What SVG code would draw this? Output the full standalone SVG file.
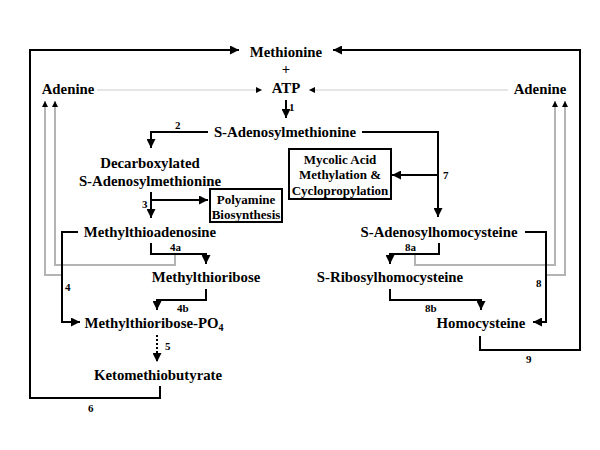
<svg xmlns="http://www.w3.org/2000/svg" width="600" height="450" viewBox="0 0 600 450" font-family="'Liberation Serif', 'Times New Roman', serif" font-weight="bold">
<defs>
<style>
text{font-family:'Liberation Serif','Times New Roman',serif;font-weight:700;fill:#000}
.n{font-size:14.8px;text-anchor:middle}
.b{font-size:13px;text-anchor:middle}
.l{font-size:11px}
.k{fill:none;stroke:#000;stroke-width:2}
.g{fill:none;stroke:#b4b4b4;stroke-width:2}
.lg{fill:none;stroke:#dcdcdc;stroke-width:1.5}
.box{fill:#fff;stroke:#000;stroke-width:2}
</style>
<marker id="a" viewBox="0 0 10 10" refX="10" refY="5" markerWidth="9" markerHeight="9" markerUnits="userSpaceOnUse" orient="auto"><path d="M0,0L10,5L0,10z" fill="#000"/></marker>
<marker id="s" viewBox="0 0 10 10" refX="10" refY="5" markerWidth="6" markerHeight="6" markerUnits="userSpaceOnUse" orient="auto"><path d="M0,0L10,5L0,10z" fill="#000"/></marker>
</defs>
<g id="connectors">
<path class="lg" d="M97,90H262" marker-end="url(#s)"/>
<path class="lg" d="M508,90H309" marker-end="url(#s)"/>
<path class="g" d="M175,254V265H55V101" marker-end="url(#s)"/>
<path class="g" d="M62,275H45V101" marker-end="url(#s)"/>
<path class="g" d="M415,254V265H555V101" marker-end="url(#s)"/>
<path class="g" d="M546,275H565V101" marker-end="url(#s)"/>
<path class="k" d="M160,386V398H30V50H239" marker-end="url(#a)"/>
<path class="k" d="M480,336V350H580V50H333" marker-end="url(#a)"/>
<path class="k" d="M286,100V118" marker-end="url(#a)"/>
<path class="k" d="M208,132H151V148" marker-end="url(#a)"/>
<path class="k" d="M362,132H438V217" marker-end="url(#a)"/>
<path class="k" d="M438,175H392" marker-end="url(#a)"/>
<path class="k" d="M151,192V218" marker-end="url(#a)"/>
<path class="k" d="M151,200H208" marker-end="url(#a)"/>
<path class="k" d="M78,232H62V322H80" marker-end="url(#a)"/>
<path class="k" d="M151,243V254H206V264" marker-end="url(#a)"/>
<path class="k" d="M206,289V300H157V310" marker-end="url(#a)"/>
<path class="k" d="M157,335V362" stroke-dasharray="2,2" marker-end="url(#a)"/>
<path class="k" d="M525,232H546V322H533" marker-end="url(#a)"/>
<path class="k" d="M439,243V254H390V264" marker-end="url(#a)"/>
<path class="k" d="M390,289V300H481V310" marker-end="url(#a)"/>
<text class="l" x="289" y="111">1</text>
<text class="l" x="175" y="129">2</text>
<text class="l" x="142" y="208">3</text>
<text class="l" x="65" y="291">4</text>
<text class="l" x="170" y="251">4a</text>
<text class="l" x="177" y="312">4b</text>
<text class="l" x="165" y="350">5</text>
<text class="l" x="88" y="412">6</text>
<text class="l" x="443" y="179">7</text>
<text class="l" x="536" y="287">8</text>
<text class="l" x="405" y="251">8a</text>
<text class="l" x="425" y="312">8b</text>
<text class="l" x="526" y="363">9</text>
</g>
<g id="methionine"><text class="n" x="286" y="57">Methionine</text><text class="n" x="286" y="74" fill="#000">+</text></g>
<g id="atp"><text class="n" x="286" y="93">ATP</text></g>
<g id="adenine-left"><text class="n" x="68" y="94">Adenine</text></g>
<g id="adenine-right"><text class="n" x="540" y="94">Adenine</text></g>
<g id="sam"><text class="n" x="285" y="137">S-Adenosylmethionine</text></g>
<g id="dcsam"><text class="n" x="150" y="168">Decarboxylated</text><text class="n" x="150" y="186">S-Adenosylmethionine</text></g>
<g id="mycolic"><rect class="box" x="289" y="149" width="102" height="50"/><text class="b" x="340" y="164">Mycolic Acid</text><text class="b" x="340" y="179">Methylation &amp;</text><text class="b" x="340" y="195">Cyclopropylation</text></g>
<g id="polyamine"><rect class="box" x="210" y="189" width="72" height="33"/><text class="b" x="246" y="204">Polyamine</text><text class="b" x="246" y="219">Biosynthesis</text></g>
<g id="mta"><text class="n" x="150" y="237">Methylthioadenosine</text></g>
<g id="mtr"><text class="n" x="206" y="282">Methylthioribose</text></g>
<g id="mtrp"><text class="n" x="154" y="328">Methylthioribose-PO<tspan font-size="10" dy="3">4</tspan></text></g>
<g id="kmb"><text class="n" x="158" y="380">Ketomethiobutyrate</text></g>
<g id="sah"><text class="n" x="439" y="237">S-Adenosylhomocysteine</text></g>
<g id="srh"><text class="n" x="390" y="282">S-Ribosylhomocysteine</text></g>
<g id="hcy"><text class="n" x="481" y="328">Homocysteine</text></g>
</svg>
